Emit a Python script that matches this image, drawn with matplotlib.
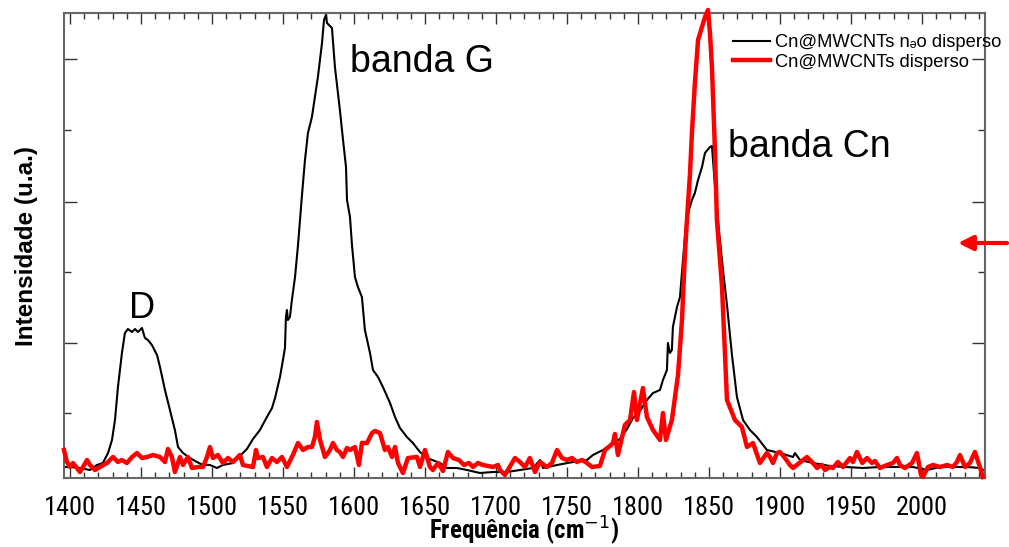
import matplotlib
matplotlib.use("Agg")
import matplotlib.pyplot as plt
from matplotlib.ticker import MultipleLocator, FixedLocator
from matplotlib import font_manager as fm

# ---- data (wavenumber in cm^-1, intensity in arbitrary units) ----
wn_nao = [1395.8, 1400.0, 1407.0, 1414.1, 1419.0, 1423.2, 1426.8, 1429.6, 1431.7, 1433.8,
          1436.6, 1438.7, 1440.8, 1443.7, 1445.8, 1447.9, 1450.7, 1452.8, 1454.9, 1457.7,
          1461.3, 1463.4, 1466.9, 1470.4, 1473.9, 1476.1, 1479.6, 1484.5, 1489.4, 1493.7,
          1498.6, 1503.5, 1507.7, 1514.8, 1519.7, 1524.6, 1528.9, 1533.8, 1538.7, 1542.3,
          1544.4, 1547.9, 1550.0, 1551.4, 1552.1, 1552.8, 1553.5, 1554.9, 1556.3, 1558.5,
          1560.6, 1563.4, 1565.5, 1567.6, 1570.4, 1572.5, 1574.6, 1577.5, 1578.9, 1580.3,
          1581.0, 1584.5, 1586.6, 1590.1, 1592.3, 1594.4, 1595.1, 1597.2, 1598.6, 1600.7,
          1602.8, 1605.6, 1607.7, 1611.3, 1613.4, 1616.9, 1620.4, 1625.4, 1628.9, 1632.4,
          1637.3, 1641.5, 1646.5, 1651.4, 1660.6, 1665.5, 1672.5, 1679.6, 1688.7, 1697.9,
          1707.7, 1716.9, 1726.1, 1731.0, 1733.1, 1743.0, 1754.2, 1764.1, 1768.3, 1775.4,
          1782.4, 1787.3, 1792.3, 1796.5, 1801.4, 1806.3, 1810.6, 1815.5, 1817.6, 1820.4,
          1821.1, 1822.5, 1823.9, 1824.6, 1827.5, 1829.6, 1831.7, 1833.8, 1835.9, 1838.0,
          1840.1, 1842.3, 1845.1, 1847.2, 1850.7, 1852.1, 1854.2, 1857.0, 1859.9, 1862.7,
          1866.2, 1869.7, 1874.0, 1878.9, 1883.8, 1890.8, 1900.0, 1909.2, 1910.6, 1914.1,
          1923.2, 1935.2, 1947.2, 1958.5, 1970.4, 1982.4, 1993.7, 2003.5, 2012.7, 2021.8,
          2031.7, 2040.8, 2044.4]
int_nao = [11, 11, 10, 8, 13, 15, 25, 38, 58, 91,
           125, 145, 149, 146, 149, 146, 150, 140, 138, 133,
           123, 111, 88, 68, 48, 31, 25, 20, 16, 13,
           13, 10, 13, 15, 22, 29, 39, 48, 61, 70,
           80, 101, 118, 130, 161, 168, 158, 161, 178, 201,
           233, 283, 318, 345, 361, 381, 401, 435, 458, 463,
           455, 450, 411, 368, 338, 311, 278, 261, 233, 201,
           191, 181, 148, 125, 108, 101, 91, 75, 61, 50,
           41, 35, 26, 20, 15, 10, 10, 8, 5, 6,
           6, 8, 10, 18, 10, 13, 16, 18, 23, 28,
           35, 39, 49, 60, 67, 78, 85, 88, 98, 108,
           135, 125, 128, 151, 171, 181, 218, 253, 268, 278,
           285, 298, 311, 325, 331, 332, 293, 248, 208, 173,
           123, 81, 58, 48, 41, 28, 25, 21, 25, 18,
           15, 12, 11, 10, 11, 11, 11, 8, 11, 11,
           11, 10, 7]

wn_disp = [1395.8, 1397.9, 1400.0, 1402.1, 1404.9, 1407.0, 1409.2, 1412.0, 1414.1, 1417.6,
           1421.1, 1426.1, 1430.3, 1433.8, 1436.6, 1440.1, 1443.7, 1447.2, 1450.7, 1454.2,
           1458.5, 1463.4, 1466.9, 1469.0, 1471.8, 1473.9, 1477.5, 1479.6, 1483.1, 1485.9,
           1490.1, 1493.7, 1496.5, 1498.6, 1500.7, 1504.2, 1507.7, 1511.3, 1514.8, 1517.6,
           1519.7, 1521.8, 1528.9, 1531.0, 1532.4, 1535.9, 1538.7, 1542.3, 1545.8, 1549.3,
           1552.8, 1557.0, 1560.6, 1564.1, 1567.6, 1570.4, 1572.5, 1573.9, 1576.1, 1579.6,
           1583.1, 1585.2, 1588.0, 1590.1, 1592.3, 1595.1, 1597.2, 1600.7, 1603.5, 1605.6,
           1609.2, 1612.7, 1614.8, 1618.3, 1621.8, 1623.9, 1626.8, 1628.9, 1631.0, 1634.5,
           1638.0, 1644.4, 1646.5, 1650.0, 1653.5, 1655.6, 1659.2, 1662.7, 1666.2, 1669.7,
           1673.9, 1677.5, 1681.0, 1683.8, 1687.3, 1690.8, 1697.9, 1701.4, 1702.8, 1706.3,
           1713.4, 1716.9, 1720.4, 1723.9, 1727.5, 1731.0, 1735.9, 1739.4, 1743.0, 1746.5,
           1750.0, 1753.5, 1757.0, 1760.6, 1764.1, 1767.6, 1773.2, 1776.8, 1780.3, 1782.4,
           1783.8, 1785.9, 1790.8, 1794.4, 1797.2, 1799.3, 1803.5, 1806.3, 1810.6, 1815.5,
           1817.6, 1819.7, 1823.9, 1828.2, 1831.0, 1833.1, 1834.5, 1836.6, 1838.0, 1840.1,
           1842.3, 1847.2, 1849.3, 1850.7, 1852.1, 1854.2, 1855.6, 1859.2, 1862.7, 1868.3,
           1873.2, 1876.8, 1881.0, 1885.9, 1890.8, 1893.0, 1895.1, 1897.9, 1900.0, 1903.5,
           1907.0, 1909.2, 1919.0, 1923.2, 1926.1, 1929.6, 1931.7, 1935.2, 1937.3, 1940.8,
           1944.4, 1949.3, 1951.4, 1954.2, 1958.0, 1961.3, 1964.8, 1966.9, 1970.4, 1975.4,
           1979.6, 1982.4, 1984.5, 1988.0, 1993.0, 1996.5, 1999.3, 2000.7, 2004.2, 2007.7,
           2012.7, 2017.6, 2021.8, 2024.6, 2026.8, 2030.3, 2033.8, 2037.3, 2040.8, 2042.9]
int_disp = [28, 16, 11, 15, 10, 6, 11, 18, 13, 8,
            11, 15, 21, 16, 18, 15, 21, 25, 20, 21,
            23, 21, 16, 29, 21, 6, 21, 13, 21, 10,
            11, 11, 21, 31, 20, 23, 15, 20, 16, 20,
            23, 13, 11, 28, 20, 21, 11, 20, 16, 21,
            11, 23, 35, 28, 31, 31, 41, 56, 38, 21,
            28, 35, 28, 26, 21, 30, 28, 31, 13, 35,
            35, 45, 47, 45, 28, 31, 21, 31, 15, 5,
            20, 21, 11, 28, 11, 8, 15, 7, 26, 20,
            18, 13, 15, 11, 15, 13, 11, 13, 8, 3,
            20, 16, 11, 20, 6, 16, 11, 15, 28, 20,
            18, 20, 16, 18, 15, 11, 12, 28, 32, 35,
            44, 23, 53, 58, 86, 58, 90, 61, 48, 38,
            65, 38, 58, 103, 158, 225, 258, 303, 345, 395,
            438, 461, 468, 445, 411, 328, 258, 191, 78, 58,
            51, 31, 35, 15, 25, 21, 15, 25, 26, 20,
            13, 10, 21, 15, 10, 13, 8, 11, 10, 16,
            11, 20, 16, 26, 15, 20, 15, 17, 10, 13,
            15, 20, 13, 10, 15, 25, 3, 1, 11, 13,
            11, 13, 11, 16, 23, 11, 15, 26, 11, 1]

x_ticks = [1400, 1450, 1500, 1550, 1600, 1650, 1700, 1750, 1800, 1850, 1900, 1950, 2000]
y_major = [135, 276, 419]
y_minor = [65, 206, 348]

label_nao = "Cn@MWCNTs n\u2094o disperso"
label_disp = "Cn@MWCNTs disperso"


# ---- pick a condensed font if one is installed ----
def find_condensed():
    names = {f.name for f in fm.fontManager.ttflist}
    for fam in ["Liberation Sans Narrow", "Arial Narrow", "Roboto Condensed",
                "Open Sans Condensed", "DejaVu Sans Condensed"]:
        if fam in names:
            return dict(family=[fam, "DejaVu Sans"]), 1.0
    for f in fm.fontManager.ttflist:
        if f.name == "DejaVu Sans" and "Condensed" in f.fname and "Bold" not in f.fname \
                and "Oblique" not in f.fname:
            return dict(family=["DejaVu Sans"], stretch="condensed"), 0.93
    for f in fm.fontManager.ttflist:
        if f.name in ("Roboto", "Inter") and ("Condensed" in f.fname or "condensed" in str(f.stretch)):
            return dict(family=[f.name], stretch="condensed"), 1.0
    return dict(family=["Roboto", "Liberation Sans", "DejaVu Sans"]), 0.9


narrow, nscale = find_condensed()
sans = ["Liberation Sans", "DejaVu Sans"]

# ---- figure ----
W, H = 1009, 547
fig = plt.figure(figsize=(W / 100, H / 100), dpi=100)
ax = fig.add_axes([64 / W, 1 - 478 / H, (985 - 64) / W, (478 - 13) / H])

ax.plot(wn_nao, int_nao, color="black", lw=1.5, label=label_nao, zorder=2)
ax.plot(wn_disp, int_disp, color="#ff0000", lw=3.2, label=label_disp, zorder=3,
        clip_on=False, solid_joinstyle="round")

ax.set_xlim(1395.8, 2044.4)
ax.set_ylim(0, 465)

ax.xaxis.set_major_locator(FixedLocator(x_ticks))
ax.xaxis.set_minor_locator(MultipleLocator(10))
ax.yaxis.set_major_locator(FixedLocator(y_major))
ax.yaxis.set_minor_locator(FixedLocator(y_minor))
ax.set_yticklabels([])
ax.set_xticklabels([str(t) for t in x_ticks], fontsize=19 * nscale, **narrow)

ax.tick_params(axis="x", which="both", direction="in", top=True, bottom=True,
               color="#333333", width=1, pad=13)
ax.tick_params(axis="x", which="major", length=8)
ax.tick_params(axis="x", which="minor", length=4)
ax.tick_params(axis="y", which="both", direction="in", left=True, right=True,
               color="#333333", width=1)
ax.tick_params(axis="y", which="major", length=9.5)
ax.tick_params(axis="y", which="minor", length=5)

for s in ax.spines.values():
    s.set_color("#666666")
    s.set_linewidth(1.5)

ax.set_xlabel("Frequência (cm$^{-1}$)", fontweight="bold",
              fontsize=18 * nscale, labelpad=-4, **narrow)
ax.set_ylabel("Intensidade (u.a.)", family=sans, fontweight="bold", fontsize=17.5,
              labelpad=15)

ax.text(1451, 160, "D", family=sans, fontsize=26, ha="center", va="baseline")
ax.text(1597.2, 406, "banda G", family=sans, fontsize=27, ha="left", va="baseline")
ax.text(1863.4, 321, "banda Cn", family=sans, fontsize=27, ha="left", va="baseline")

leg = ax.legend(loc="upper left", bbox_to_anchor=(733 / W, 1 - 34 / H),
                bbox_transform=fig.transFigure, frameon=False, borderpad=0,
                borderaxespad=0, handlelength=2.0, handletextpad=0.3,
                labelspacing=0.15, prop={"family": sans, "size": 13.2})

ax.annotate("", xy=(958 / W, 1 - 243 / H), xytext=(1007 / W, 1 - 243 / H),
            xycoords="figure fraction", textcoords="figure fraction",
            arrowprops=dict(arrowstyle="-|>", color="#ff0000", lw=3,
                            mutation_scale=22, shrinkA=0, shrinkB=0))

fig.savefig("out.png", dpi=100)
